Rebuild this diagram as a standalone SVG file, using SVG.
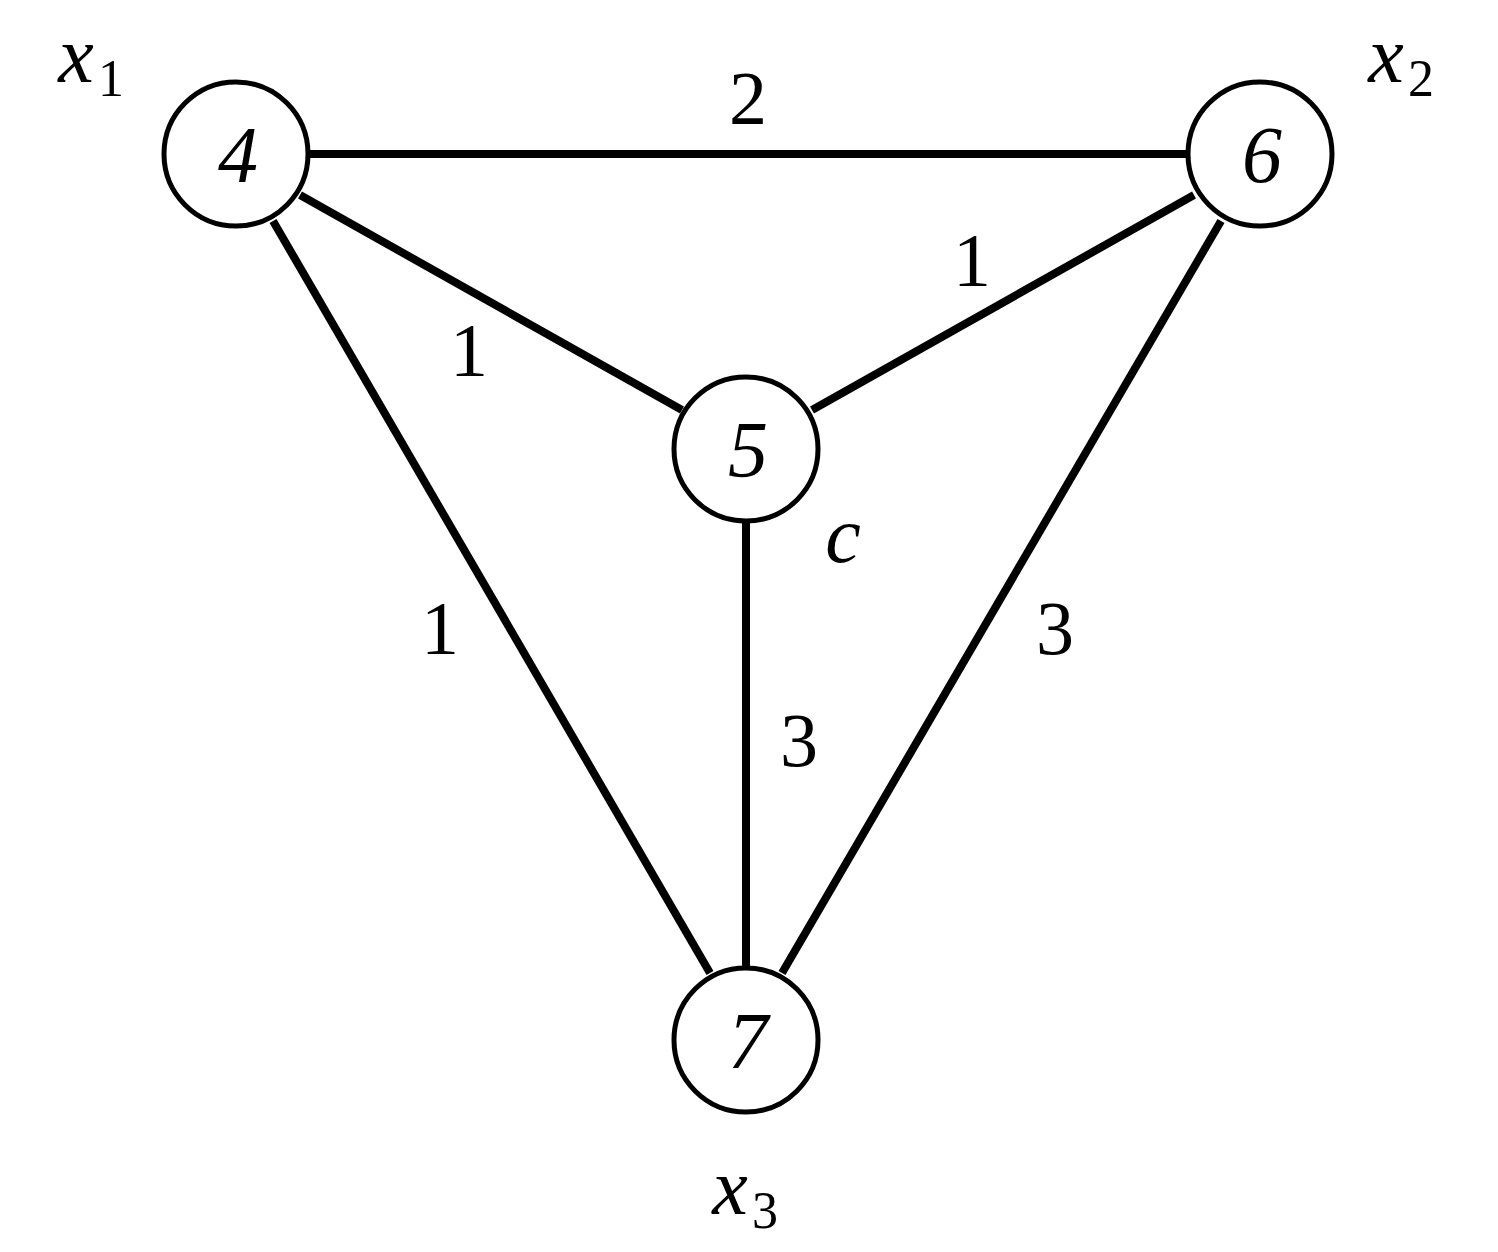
<svg xmlns="http://www.w3.org/2000/svg" width="1498" height="1252" viewBox="0 0 1498 1252">
<style>
.n{fill:#fff;stroke:#000;stroke-width:5}
.e{stroke:#000;stroke-width:8;fill:none}
.t{font-family:"Liberation Serif",serif;font-style:italic;font-size:80px;text-anchor:middle}
.w{font-family:"Liberation Serif",serif;font-size:76px;text-anchor:middle}
.s{font-family:"Liberation Serif",serif;font-size:52px}
</style>
<rect width="1498" height="1252" fill="#fff"/>
<g id="edges">
<line class="e" x1="309" y1="154" x2="1187" y2="154"/>
<line class="e" x1="300" y1="195" x2="682" y2="410"/>
<line class="e" x1="1194" y1="195" x2="812" y2="410"/>
<line class="e" x1="273" y1="221" x2="710" y2="973"/>
<line class="e" x1="1221" y1="221" x2="782" y2="973"/>
<line class="e" x1="746" y1="522" x2="746" y2="968"/>
</g>
<g id="edge-labels">
<text class="w" x="748" y="124">2</text>
<text class="w" x="469" y="376">1</text>
<text class="w" x="972" y="286">1</text>
<text class="w" x="440" y="654">1</text>
<text class="w" x="1055" y="654">3</text>
<text class="w" x="799" y="766">3</text>
</g>
<g id="n4"><circle class="n" cx="236" cy="154" r="72"/><text class="t" x="238" y="182">4</text></g>
<g id="n6"><circle class="n" cx="1260" cy="154" r="72"/><text class="t" x="1262" y="182">6</text></g>
<g id="n5"><circle class="n" cx="746" cy="449" r="72"/><text class="t" x="748" y="477">5</text></g>
<g id="n7"><circle class="n" cx="746" cy="1040" r="72"/><text class="t" x="748" y="1068">7</text></g>
<g id="labels">
<text class="t" x="76" y="82">x</text><text class="s" x="98" y="96">1</text>
<text class="t" x="1386" y="82">x</text><text class="s" x="1408" y="96">2</text>
<text class="t" x="730" y="1214">x</text><text class="s" x="752" y="1228">3</text>
<text class="t" x="843" y="562">c</text>
</g>
</svg>
